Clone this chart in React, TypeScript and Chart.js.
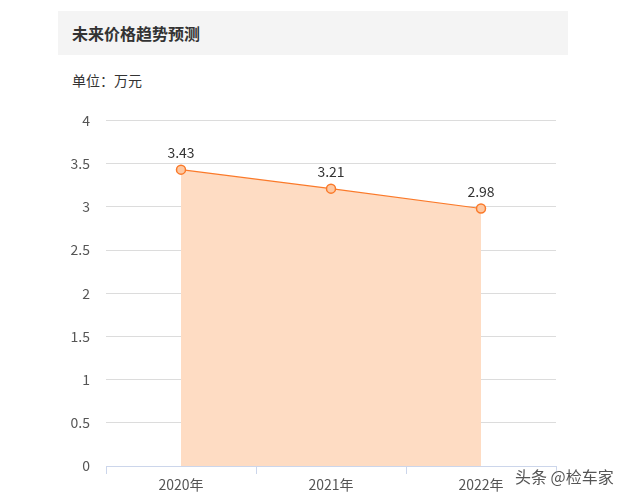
import { useEffect, useRef } from 'react';
import { Chart, registerables } from 'chart.js';

Chart.register(...registerables);

const years = ['2020年', '2021年', '2022年'];
const prices = [3.43, 3.21, 2.98];
const yMin = 0;
const yMax = 4;
const yStep = 0.5;

const FONT = '"Microsoft YaHei", "Noto Sans CJK SC", sans-serif';

// draws the value above each point, using the positions Chart.js computed
const valueLabels = {
  id: 'valueLabels',
  afterDatasetsDraw(chart: Chart) {
    const { ctx } = chart;
    const meta = chart.getDatasetMeta(0);
    ctx.save();
    ctx.font = `14px ${FONT}`;
    ctx.fillStyle = '#333';
    ctx.textAlign = 'center';
    ctx.textBaseline = 'middle';
    meta.data.forEach((pt, i) => {
      ctx.fillText(prices[i].toFixed(2), pt.x, pt.y - 17);
    });
    ctx.restore();
  },
};

function PriceChart() {
  const canvasRef = useRef<HTMLCanvasElement>(null);
  const chartRef = useRef<Chart | null>(null);

  useEffect(() => {
    if (!canvasRef.current) return;
    chartRef.current?.destroy();

    chartRef.current = new Chart(canvasRef.current, {
      type: 'line',
      data: {
        labels: years,
        datasets: [{
          data: prices,
          borderColor: '#fb7a2a',
          borderWidth: 1.2,
          backgroundColor: '#fedcc3',
          fill: 'origin',
          tension: 0,
          pointRadius: 4.5,
          pointBorderWidth: 1.5,
          pointBackgroundColor: '#fdc8a2',
          pointBorderColor: '#fb7a2a',
        }],
      },
      options: {
        animation: false,
        responsive: true,
        maintainAspectRatio: false,
        layout: { padding: { top: 16, right: 13, left: 0, bottom: 0 } },
        plugins: {
          legend: { display: false },
          tooltip: { enabled: false },
        },
        scales: {
          x: {
            offset: true,
            grid: {
              offset: true,
              drawOnChartArea: false,
              drawTicks: true,
              tickLength: 8,
              color: '#ccd6eb',
            },
            border: { display: true, color: '#ccd6eb', width: 1 },
            ticks: {
              color: '#555',
              padding: 2,
              font: { size: 14, family: FONT },
            },
            afterFit: (scale: any) => { scale.height = 32; },
          },
          y: {
            min: yMin,
            max: yMax,
            grid: {
              drawTicks: false,
              color: (c: any) => (c.tick && c.tick.value === 0 ? 'rgba(0,0,0,0)' : '#dcdcdc'),
            },
            border: { display: false },
            ticks: {
              stepSize: yStep,
              color: '#555',
              padding: 16,
              font: { size: 14, family: FONT },
              callback: (v: any) => String(Number(v)),
            },
            afterFit: (scale: any) => { scale.width = 47; },
          },
        },
      },
      plugins: [valueLabels],
    });

    return () => {
      chartRef.current?.destroy();
      chartRef.current = null;
    };
  }, []);

  return (
    <div style={{ position: 'absolute', left: 59, top: 96, width: 510, height: 402 }}>
      <canvas ref={canvasRef} />
    </div>
  );
}

export default function App() {
  return (
    <div style={{ position: 'absolute', left: 0, top: 0, width: 631, height: 498, background: '#fff', fontFamily: FONT, overflow: 'hidden' }}>
      <div style={{
        position: 'absolute', left: 58, top: 11, width: 510, height: 44,
        background: '#f4f4f4', boxSizing: 'border-box', paddingLeft: 14,
        lineHeight: '44px', fontSize: 16, fontWeight: 'bold', color: '#333',
      }}>
        未来价格趋势预测
      </div>
      <div style={{ position: 'absolute', left: 72, top: 70, fontSize: 14, color: '#333', lineHeight: '20px' }}>
        单位：万元
      </div>
      <PriceChart />
      <div style={{
        position: 'absolute', left: 515, top: 464, fontSize: 16, lineHeight: '24px',
        color: '#555', textShadow: '0 0 2px #fff, 0 0 2px #fff', whiteSpace: 'nowrap',
      }}>
        头条 @检车家
      </div>
    </div>
  );
}
